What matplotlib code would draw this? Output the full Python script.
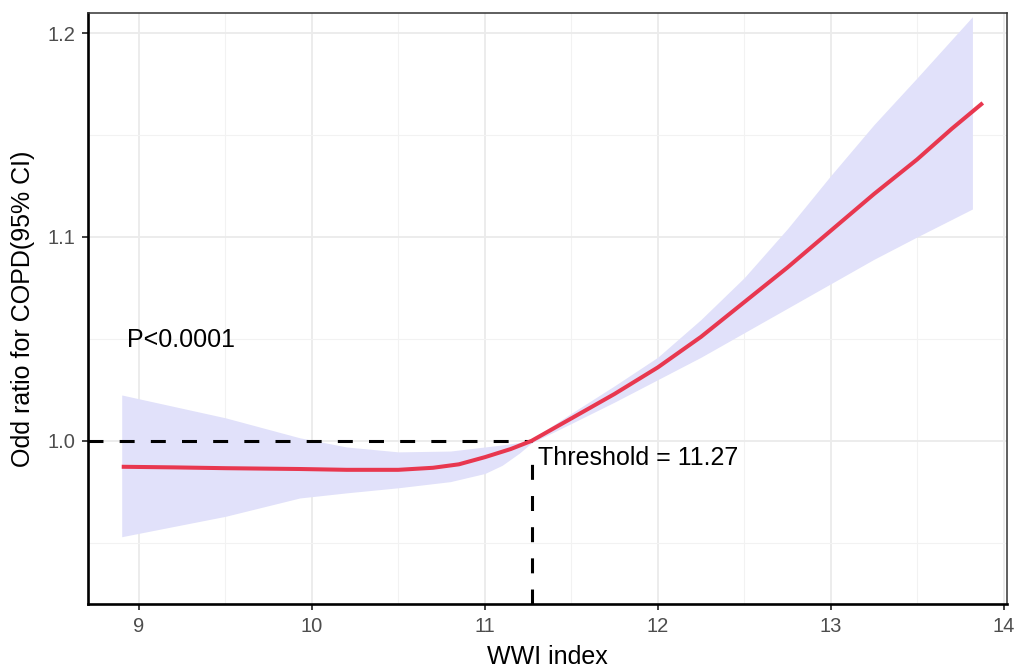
import matplotlib
matplotlib.use("Agg")
import matplotlib.pyplot as plt
from matplotlib.ticker import MultipleLocator

plt.rcParams['font.family'] = ['Liberation Sans', 'DejaVu Sans']

# estimated odds ratio curve
wwi = [8.9, 9.2, 9.5, 9.93, 10.2, 10.5, 10.7, 10.85, 11.0, 11.15, 11.27, 11.5, 11.75,
       12.0, 12.25, 12.5, 12.75, 13.0, 13.25, 13.5, 13.7, 13.88]
odds = [0.9873, 0.9870, 0.9866, 0.9862, 0.9858, 0.9858, 0.9868, 0.9885, 0.9920, 0.9960,
        1.0, 1.0110, 1.0230, 1.0360, 1.0510, 1.0680, 1.0850, 1.1030, 1.1210, 1.1380,
        1.1530, 1.1657]

# 95% CI band
ci_x = [8.9, 9.5, 9.93, 10.2, 10.5, 10.8, 11.0, 11.1, 11.2, 11.27, 11.5, 11.75, 12.0,
        12.25, 12.5, 12.75, 13.0, 13.25, 13.5, 13.82]
ci_low = [0.953, 0.963, 0.972, 0.9745, 0.977, 0.980, 0.984, 0.9880, 0.9940, 0.9990,
          1.0085, 1.0190, 1.0300, 1.0410, 1.0530, 1.0650, 1.0770, 1.0890, 1.1000, 1.1137]
ci_high = [1.0225, 1.0113, 1.0015, 0.9970, 0.9946, 0.9950, 0.9970, 0.9980, 0.9992, 1.0008,
           1.0135, 1.0270, 1.0410, 1.0595, 1.0800, 1.1040, 1.1300, 1.1550, 1.1780, 1.2080]

threshold = 11.27

fig = plt.figure(figsize=(10.14, 6.68), dpi=100)
ax = fig.add_axes([0.0868, 0.0958, 0.9063, 0.8847])

ax.fill_between(ci_x, ci_low, ci_high, color='#E1E1FA', lw=0, zorder=2)
ax.plot(wwi, odds, color='#E8374F', lw=2.9, zorder=4, solid_capstyle='butt')

ax.plot([8.705, threshold], [1.0, 1.0], color='black', lw=2.2, dashes=(4.9, 5.3), zorder=3)
ax.plot([threshold, threshold], [0.92, 0.9905], color='black', lw=2.2, dashes=(4.9, 5.3), zorder=3)

ax.text(8.93, 1.0495, 'P<0.0001', fontsize=18, va='center', ha='left', zorder=5)
ax.text(11.31, 0.9915, 'Threshold = 11.27', fontsize=18, va='center', ha='left', zorder=5)

ax.set_xlim(8.705, 14.02)
ax.set_ylim(0.920, 1.2098)
ax.set_xticks([9, 10, 11, 12, 13, 14])
ax.set_yticks([1.0, 1.1, 1.2])
ax.set_yticklabels(['1.0', '1.1', '1.2'])
ax.xaxis.set_minor_locator(MultipleLocator(0.5))
ax.yaxis.set_minor_locator(MultipleLocator(0.05))

ax.grid(True, which='major', color='#EBEBEB', lw=1.3, zorder=0)
ax.grid(True, which='minor', color='#F2F2F2', lw=0.8, zorder=0)
ax.set_axisbelow(True)

ax.tick_params(which='major', length=4, width=1.3, color='#333333',
               labelsize=14.5, labelcolor='#4D4D4D', pad=5)
ax.tick_params(which='minor', length=0)

for side in ['left', 'bottom']:
    ax.spines[side].set_color('black')
    ax.spines[side].set_linewidth(1.9)
for side in ['top', 'right']:
    ax.spines[side].set_color('#333333')
    ax.spines[side].set_linewidth(1.1)

ax.set_xlabel('WWI index', fontsize=18, labelpad=7)
ax.set_ylabel('Odd ratio for COPD(95% CI)', fontsize=18, labelpad=9)

fig.savefig('out.png', dpi=100)
